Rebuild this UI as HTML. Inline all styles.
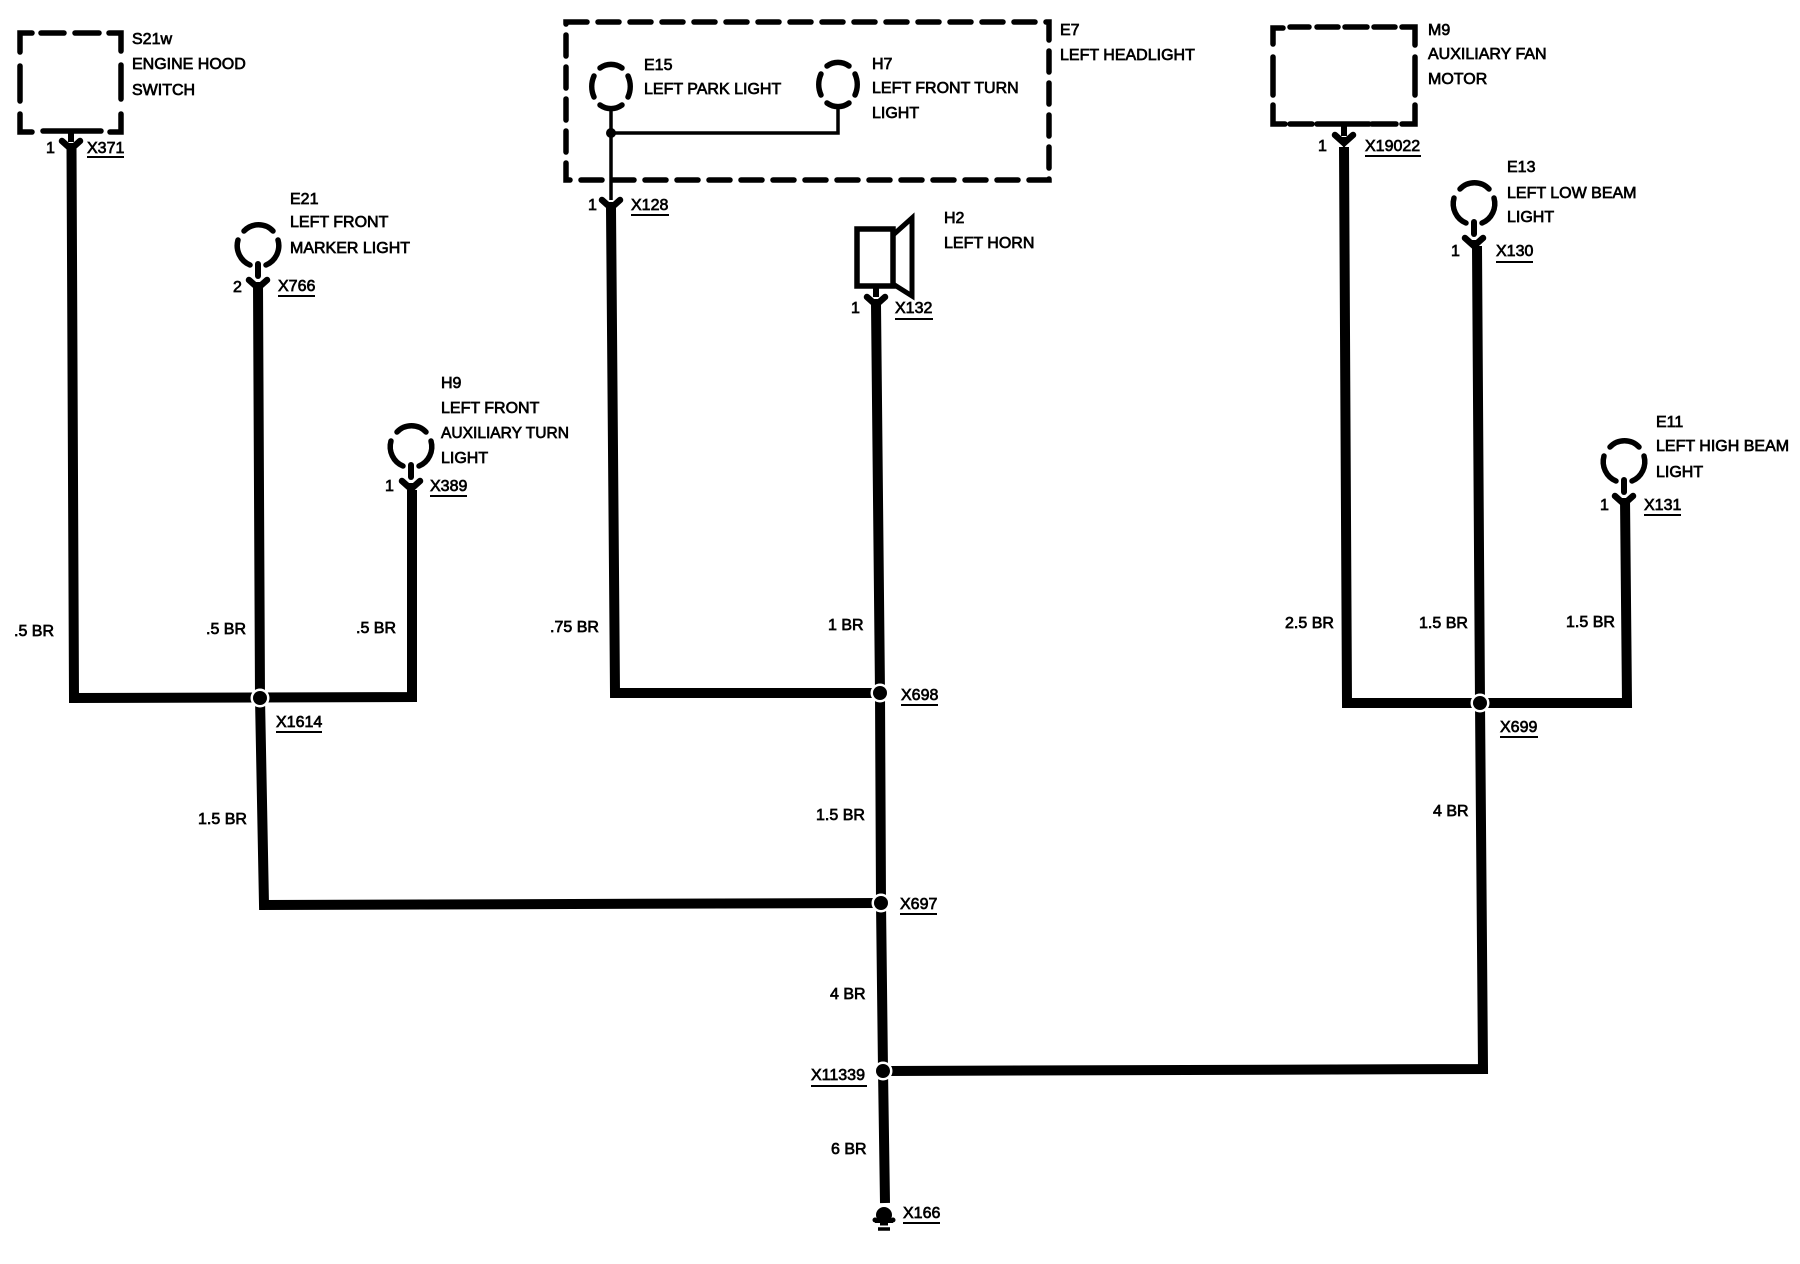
<!DOCTYPE html>
<html>
<head>
<meta charset="utf-8">
<style>
html,body{margin:0;padding:0;background:#fff}
svg{display:block}
text{font-family:"Liberation Sans",sans-serif;font-size:16px;fill:#000;stroke:#000;stroke-width:.7px}
.w{fill:none;stroke:#000;stroke-width:10;stroke-linejoin:miter}
.t{fill:none;stroke:#000;stroke-width:3.5}
.d{fill:none;stroke:#000;stroke-width:5.5;stroke-linecap:round;stroke-linejoin:miter}
.u{stroke:#000;stroke-width:2}
.a{fill:none;stroke:#000;stroke-width:5.5;stroke-linecap:round}
</style>
</head>
<body>
<svg xmlns="http://www.w3.org/2000/svg" width="1800" height="1264" viewBox="0 0 1800 1264">
<defs>
<g id="open">
<path class="a" d="M-14,-15 A20,20 0 0 1 15,-15"/>
<path class="a" d="M-20,-6 A21,21 0 0 0 -8,19"/>
<path class="a" d="M20,-6 A21,21 0 0 1 8,19"/>
<path d="M0,18 V30" stroke="#000" stroke-width="6" fill="none" stroke-linecap="round"/>
<path d="M-9,34 L0,42 L9,34" stroke="#000" stroke-width="6.5" fill="none" stroke-linecap="round"/>
<path d="M-5,36 L0,48 L5,36Z" fill="#000"/>
</g>
<g id="closed">
<path class="a" d="M-11,-18 A20,22 0 0 1 11,-18"/>
<path class="a" d="M-17,-10 A22,24 0 0 0 -17,11"/>
<path class="a" d="M17,-10 A22,24 0 0 1 17,11"/>
<path class="a" d="M-11,19 A20,22 0 0 0 11,19"/>
</g>
<g id="fork">
<path d="M-9,-4 L0,4 L9,-4" stroke="#000" stroke-width="6.5" fill="none" stroke-linecap="round"/>
<path d="M-5,-2 L0,10 L5,-2Z" fill="#000"/>
</g>
<g id="j">
<circle r="9.5" fill="#fff"/>
<circle r="7" fill="#000"/>
</g>
</defs>

<!-- wires -->
<polyline class="w" points="71.5,146 74,698 412,697 412,490"/>
<polyline class="w" points="258,284 260,698 264,905 881,903"/>
<polyline class="w" points="611,208 615,693 880,693"/>
<polyline class="w" points="876,304 880,693 881,903 883,1070 885,1203"/>
<polyline class="w" points="1344,147 1347,703 1627,703 1625,498"/>
<polyline class="w" points="1477,246 1480,703 1483,1069 885,1071"/>

<!-- junctions -->
<use href="#j" x="260" y="698"/>
<use href="#j" x="880" y="693"/>
<use href="#j" x="881" y="903"/>
<use href="#j" x="883" y="1071"/>
<use href="#j" x="1480" y="703"/>

<!-- S21w box -->
<path class="d" d="M20,52 V33 H32 M41,33 H64 M75,33 H99 M109,33 H121 V51 M121,65 V99 M121,114 V132 H110 M101,131 H43 M32,132 H20 V114 M20,101 V66"/>
<path d="M71,132 V142" stroke="#000" stroke-width="6"/>
<use href="#fork" x="71" y="145"/>

<!-- E7 box -->
<path class="d" stroke-dasharray="21 11" d="M566,22 H1049 V180 H566 Z"/>
<use href="#closed" x="611" y="86"/>
<use href="#closed" x="838" y="84"/>
<path class="t" d="M611,107 V200 M611,133 H838 V104"/>
<circle cx="611" cy="133" r="5" fill="#000"/>
<use href="#fork" x="611" y="204"/>

<!-- M9 box -->
<path class="d" d="M1273,44 V28 H1283 M1290,27 H1309 M1317,27 H1338 M1345,27 H1367 M1374,27 H1395 M1402,27 H1415 V45 M1415,57 V95 M1415,105 V124 H1402 M1396,124 H1372 M1369,124 H1317 M1312,124 H1290 M1285,124 H1273 V105 M1273,95 V57"/>
<path d="M1344,124 V136" stroke="#000" stroke-width="6"/>
<use href="#fork" x="1344" y="139"/>

<!-- bulbs with connectors -->
<use href="#open" x="258" y="246"/>
<use href="#open" x="411" y="447"/>
<use href="#open" x="1474" y="204"/>
<use href="#open" x="1624" y="462"/>

<!-- horn -->
<rect x="857" y="229" width="36" height="57" fill="none" stroke="#000" stroke-width="5.5"/>
<path d="M893,235 L912,218 V296 L893,284 Z" fill="none" stroke="#000" stroke-width="5"/>
<path d="M876,286 V297" stroke="#000" stroke-width="6"/>
<use href="#fork" x="876" y="301"/>

<!-- ground -->
<ellipse cx="884" cy="1215" rx="8" ry="8" fill="#000"/>
<path d="M875,1221 H893" stroke="#000" stroke-width="4"/>
<circle cx="875" cy="1220" r="2.5" fill="#000"/>
<circle cx="893" cy="1220" r="2.5" fill="#000"/>
<path d="M880,1224 H888" stroke="#000" stroke-width="3"/>
<path d="M878,1229 H890" stroke="#000" stroke-width="3.5"/>

<!-- labels -->
<text x="132" y="44">S21w</text>
<text x="132" y="69">ENGINE HOOD</text>
<text x="132" y="95">SWITCH</text>
<text x="46" y="153">1</text>
<text x="87" y="153">X371</text>
<line class="u" x1="87" y1="157" x2="124" y2="157"/>

<text x="290" y="204">E21</text>
<text x="290" y="227">LEFT FRONT</text>
<text x="290" y="253">MARKER LIGHT</text>
<text x="233" y="292">2</text>
<text x="278" y="291">X766</text>
<line class="u" x1="278" y1="296" x2="315" y2="296"/>

<text x="441" y="388">H9</text>
<text x="441" y="413">LEFT FRONT</text>
<text x="441" y="438" textLength="128" lengthAdjust="spacingAndGlyphs">AUXILIARY TURN</text>
<text x="441" y="463">LIGHT</text>
<text x="385" y="491">1</text>
<text x="430" y="491">X389</text>
<line class="u" x1="430" y1="496" x2="467" y2="496"/>

<text x="644" y="70">E15</text>
<text x="644" y="94">LEFT PARK LIGHT</text>
<text x="872" y="69">H7</text>
<text x="872" y="93">LEFT FRONT TURN</text>
<text x="872" y="118">LIGHT</text>
<text x="1060" y="35">E7</text>
<text x="1060" y="60">LEFT HEADLIGHT</text>
<text x="588" y="210">1</text>
<text x="631" y="210">X128</text>
<line class="u" x1="631" y1="215" x2="669" y2="215"/>

<text x="944" y="223">H2</text>
<text x="944" y="248">LEFT HORN</text>
<text x="851" y="313">1</text>
<text x="895" y="313">X132</text>
<line class="u" x1="895" y1="319" x2="933" y2="319"/>

<text x="1428" y="35">M9</text>
<text x="1428" y="59">AUXILIARY FAN</text>
<text x="1428" y="84">MOTOR</text>
<text x="1318" y="151">1</text>
<text x="1365" y="151">X19022</text>
<line class="u" x1="1365" y1="156" x2="1421" y2="156"/>

<text x="1507" y="172">E13</text>
<text x="1507" y="198">LEFT LOW BEAM</text>
<text x="1507" y="222">LIGHT</text>
<text x="1451" y="256">1</text>
<text x="1496" y="256">X130</text>
<line class="u" x1="1496" y1="262" x2="1533" y2="262"/>

<text x="1656" y="427">E11</text>
<text x="1656" y="451">LEFT HIGH BEAM</text>
<text x="1656" y="477">LIGHT</text>
<text x="1600" y="510">1</text>
<text x="1644" y="510">X131</text>
<line class="u" x1="1644" y1="515" x2="1681" y2="515"/>

<text x="14" y="636">.5 BR</text>
<text x="206" y="634">.5 BR</text>
<text x="356" y="633">.5 BR</text>
<text x="550" y="632">.75 BR</text>
<text x="828" y="630">1 BR</text>
<text x="1285" y="628">2.5 BR</text>
<text x="1419" y="628">1.5 BR</text>
<text x="1566" y="627">1.5 BR</text>
<text x="198" y="824">1.5 BR</text>
<text x="816" y="820">1.5 BR</text>
<text x="1433" y="816">4 BR</text>
<text x="830" y="999">4 BR</text>
<text x="831" y="1154">6 BR</text>

<text x="276" y="727">X1614</text>
<line class="u" x1="276" y1="732" x2="322" y2="732"/>
<text x="901" y="700">X698</text>
<line class="u" x1="901" y1="705" x2="938" y2="705"/>
<text x="900" y="909">X697</text>
<line class="u" x1="900" y1="914" x2="937" y2="914"/>
<text x="1500" y="732">X699</text>
<line class="u" x1="1500" y1="737" x2="1538" y2="737"/>
<text x="811" y="1080">X11339</text>
<line class="u" x1="811" y1="1086" x2="867" y2="1086"/>
<text x="903" y="1218">X166</text>
<line class="u" x1="903" y1="1223" x2="940" y2="1223"/>
</svg>
</body>
</html>
